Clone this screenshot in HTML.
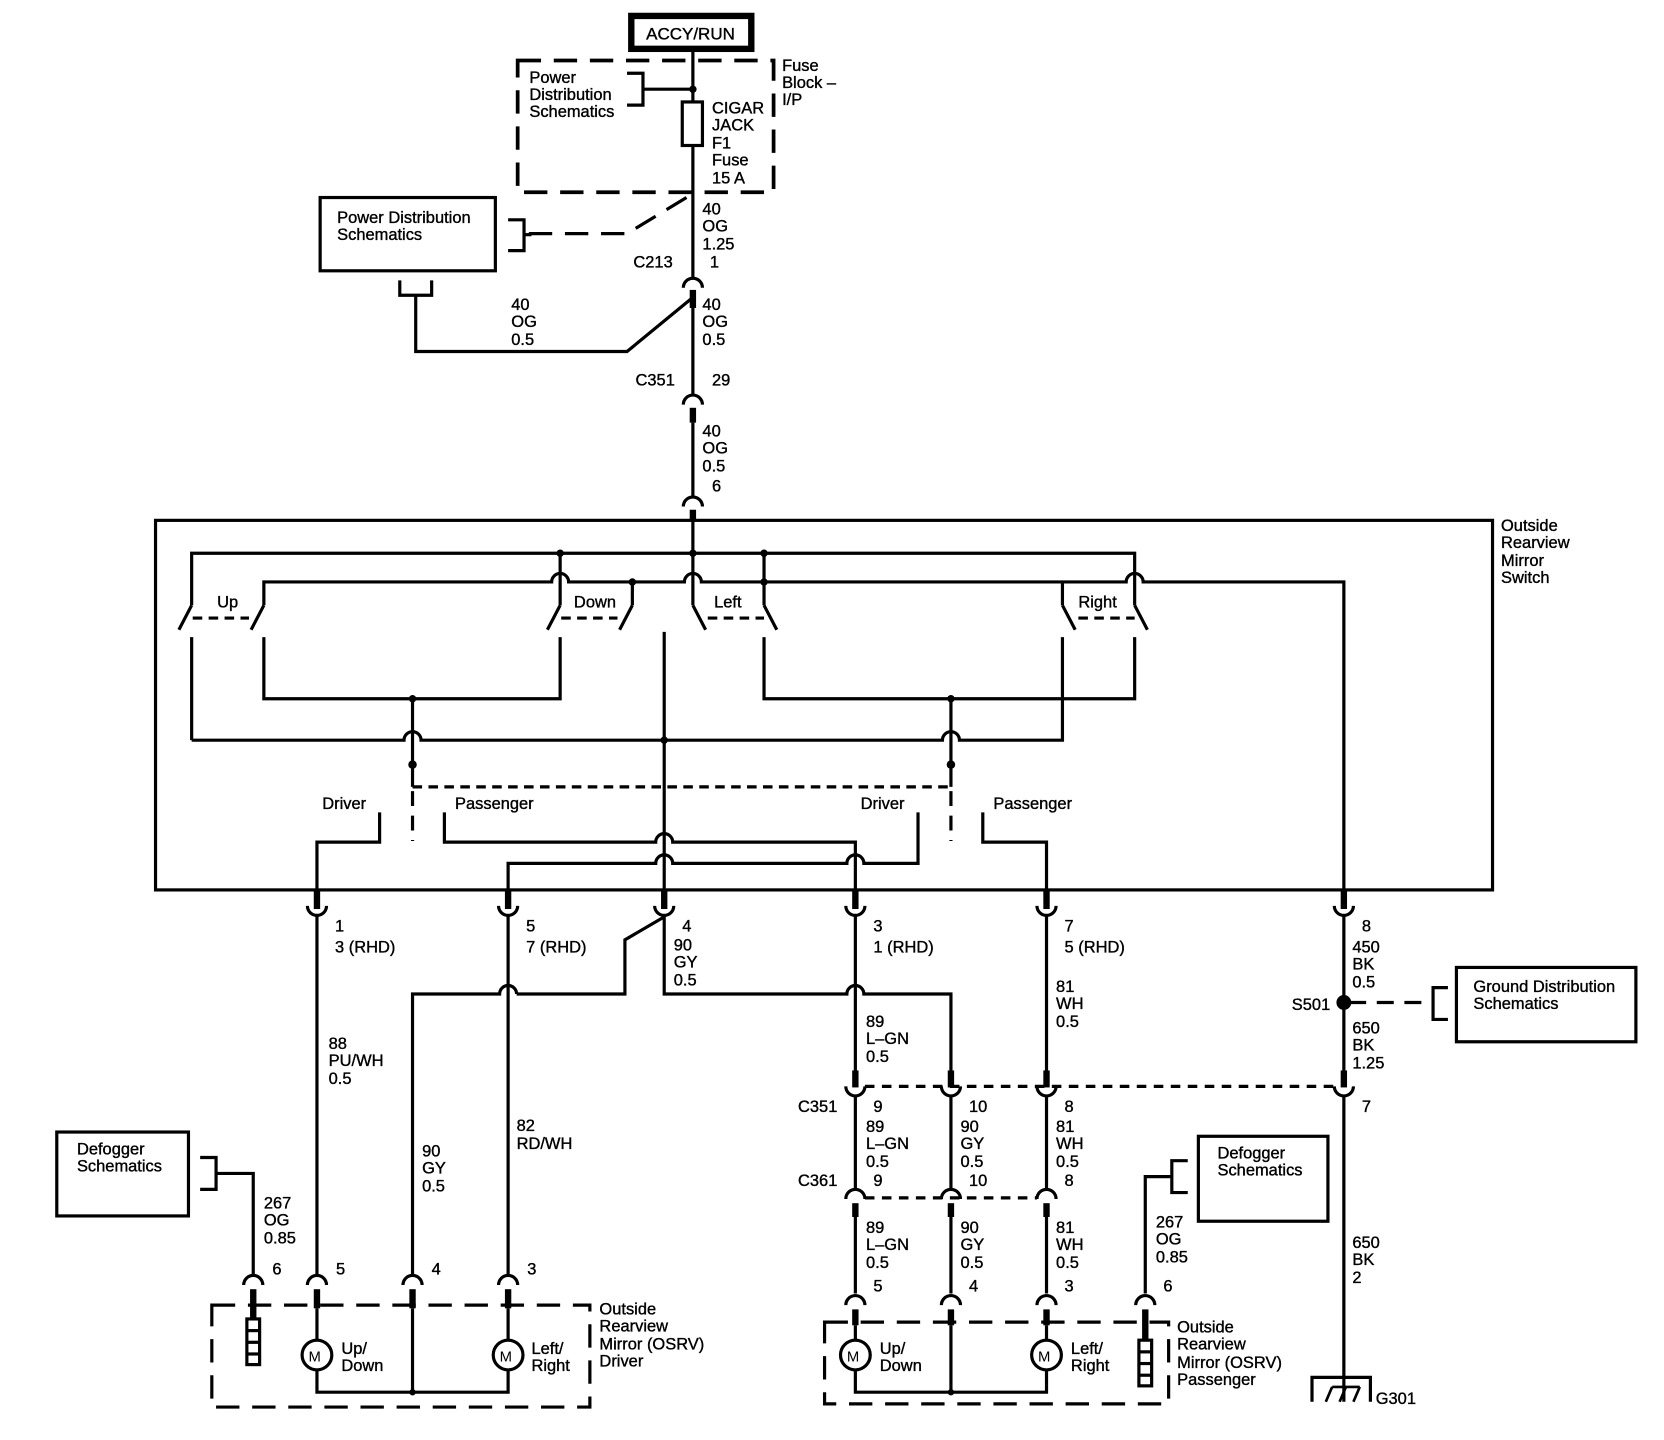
<!DOCTYPE html>
<html><head><meta charset="utf-8"><style>
html,body{margin:0;padding:0;background:#fff;}
svg{display:block;}
text{font-family:"Liberation Sans",sans-serif;font-size:15.5px;fill:#000;stroke:#000;stroke-width:0.35;}
</style></head><body>
<svg width="1664" height="1440" viewBox="0 0 1566 1356" xmlns="http://www.w3.org/2000/svg">
<g fill="none" stroke="#000" stroke-width="3">
<rect x="594" y="15" width="113" height="31" stroke-width="6"/>
<line x1="652" y1="48" x2="652" y2="262"/>
<rect x="487" y="57" width="241" height="124" stroke-dasharray="22,12" stroke-width="3.5"/>
<polyline points="590,69 605,69 605,99 590,99"/>
<line x1="605" y1="84" x2="652" y2="84"/>
<rect x="642" y="96" width="19" height="41" fill="#fff"/>
<polyline points="646,186 590,220 495,220" stroke-dasharray="22,12"/>
<polyline points="478,207 493,207 493,236 478,236"/>
<line x1="493" y1="221" x2="500" y2="221"/>
<rect x="301" y="186" width="165" height="69"/>
<polyline points="376,264 376,278 406,278 406,264"/>
<polyline points="391,278 391,331 590,331 652,280"/>
<path d="M643,271 A9,9 0 0 1 661,271"/>
<line x1="652" y1="273" x2="652" y2="290" stroke-width="6"/>
<line x1="652" y1="290" x2="652" y2="372"/>
<path d="M643,381 A9,9 0 0 1 661,381"/>
<line x1="652" y1="384" x2="652" y2="398" stroke-width="6"/>
<line x1="652" y1="398" x2="652" y2="468"/>
<path d="M643,477 A9,9 0 0 1 661,477"/>
<line x1="652" y1="480" x2="652" y2="490" stroke-width="6"/>
<rect x="146" y="490" width="1259" height="348"/>
<line x1="652" y1="490" x2="652" y2="570"/>
<polyline points="180,570 180,521 1068,521 1068,540"/>
<path d="M248,570 L248,548 L519,548 A8,8 0 0 1 535,548 L644,548 A8,8 0 0 1 660,548 L1060,548 A8,8 0 0 1 1076,548 L1265,548 L1265,852"/>
<line x1="527" y1="521" x2="527" y2="570"/>
<line x1="595" y1="548" x2="595" y2="570"/>
<line x1="719" y1="521" x2="719" y2="570"/>
<line x1="1000" y1="548" x2="1000" y2="570"/>
<line x1="1068" y1="540" x2="1068" y2="570"/>
<polyline points="180,570 168,593"/><polyline points="248,570 236,593"/>
<polyline points="527,570 515,593"/><polyline points="595,570 583,593"/>
<polyline points="652,570 664,593"/><polyline points="719,570 731,593"/>
<polyline points="1000,570 1012,593"/><polyline points="1068,570 1080,593"/>
<g stroke-dasharray="9,6"><line x1="181" y1="582" x2="234" y2="582"/><line x1="528" y1="582" x2="581" y2="582"/><line x1="666" y1="582" x2="719" y2="582"/><line x1="1015" y1="582" x2="1068" y2="582"/>
<line x1="388" y1="741" x2="895" y2="741"/></g>
<line x1="180" y1="600" x2="180" y2="697"/>
<polyline points="248,600 248,658 527,658 527,600"/>
<polyline points="719,600 719,658 1068,658 1068,600"/>
<line x1="625" y1="595" x2="625" y2="852"/>
<path d="M180,697 L380,697 A8,8 0 0 1 396,697 L887,697 A8,8 0 0 1 903,697 L1000,697 L1000,600"/>
<line x1="388" y1="658" x2="388" y2="741"/>
<line x1="895" y1="658" x2="895" y2="741"/>
<g stroke-dasharray="14,9"><line x1="388" y1="745" x2="388" y2="792"/><line x1="895" y1="745" x2="895" y2="792"/></g>
<polyline points="357,765 357,793 298,793 298,852"/>
<path d="M418,765 L418,793 L617,793 A8,8 0 0 1 633,793 L805,793 L805,852"/>
<path d="M478,852 L478,813 L617,813 A8,8 0 0 1 633,813 L797,813 A8,8 0 0 1 813,813 L864,813 L864,765"/>
<polyline points="925,765 925,793 985,793 985,852"/>
<path d="M289,853 A9,9 0 0 0 307,853"/><path d="M469,853 A9,9 0 0 0 487,853"/><path d="M616,853 A9,9 0 0 0 634,853"/><path d="M796,853 A9,9 0 0 0 814,853"/><path d="M976,853 A9,9 0 0 0 994,853"/><path d="M1256,853 A9,9 0 0 0 1274,853"/>
<g stroke-width="6"><line x1="298" y1="838" x2="298" y2="856"/><line x1="478" y1="838" x2="478" y2="856"/><line x1="625" y1="838" x2="625" y2="856"/><line x1="805" y1="838" x2="805" y2="856"/><line x1="985" y1="838" x2="985" y2="856"/><line x1="1265" y1="838" x2="1265" y2="856"/></g>
<line x1="298" y1="862" x2="298" y2="1200"/>
<line x1="478" y1="862" x2="478" y2="1200"/>
<polyline points="624,864 588,885 588,936 486,936"/>
<path d="M486,936 A8,8 0 0 0 470,936 L388,936 L388,1200"/>
<path d="M625,862 L625,936 L797,936 A8,8 0 0 1 813,936 L895,936 L895,1010"/>
<line x1="805" y1="862" x2="805" y2="1010"/>
<line x1="985" y1="862" x2="985" y2="1010"/>
<line x1="1265" y1="862" x2="1265" y2="1010"/>
<line x1="1270" y1="944" x2="1349" y2="944" stroke-dasharray="16,10"/>
<polyline points="1363,930 1349,930 1349,960 1363,960"/>
<rect x="1371" y="911" width="169" height="70"/>
<line x1="814" y1="1023" x2="1256" y2="1023" stroke-dasharray="9,7"/>
<g stroke-width="6"><line x1="805" y1="1008" x2="805" y2="1024"/><line x1="895" y1="1008" x2="895" y2="1024"/><line x1="985" y1="1008" x2="985" y2="1024"/><line x1="1265" y1="1008" x2="1265" y2="1024"/></g>
<path d="M796,1023 A9,9 0 0 0 814,1023"/><path d="M886,1023 A9,9 0 0 0 904,1023"/><path d="M976,1023 A9,9 0 0 0 994,1023"/><path d="M1256,1023 A9,9 0 0 0 1274,1023"/>
<line x1="805" y1="1032" x2="805" y2="1120"/><line x1="895" y1="1032" x2="895" y2="1120"/><line x1="985" y1="1032" x2="985" y2="1120"/>
<line x1="1265" y1="1032" x2="1265" y2="1320"/>
<line x1="814" y1="1128" x2="976" y2="1128" stroke-dasharray="9,7"/>
<path d="M796,1129 A9,9 0 0 1 814,1129"/><path d="M886,1129 A9,9 0 0 1 904,1129"/><path d="M976,1129 A9,9 0 0 1 994,1129"/>
<g stroke-width="6"><line x1="805" y1="1133" x2="805" y2="1146"/><line x1="895" y1="1133" x2="895" y2="1146"/><line x1="985" y1="1133" x2="985" y2="1146"/></g>
<line x1="805" y1="1146" x2="805" y2="1218"/><line x1="895" y1="1146" x2="895" y2="1218"/><line x1="985" y1="1146" x2="985" y2="1218"/>
<path d="M796,1229 A9,9 0 0 1 814,1229"/><path d="M886,1229 A9,9 0 0 1 904,1229"/><path d="M976,1229 A9,9 0 0 1 994,1229"/><path d="M1069,1229 A9,9 0 0 1 1087,1229"/>
<g stroke-width="6"><line x1="805" y1="1233" x2="805" y2="1248"/><line x1="895" y1="1233" x2="895" y2="1248"/><line x1="985" y1="1233" x2="985" y2="1248"/><line x1="1078" y1="1233" x2="1078" y2="1262"/></g>
<rect x="776" y="1245" width="324" height="77" stroke-dasharray="22,12"/>
<line x1="805" y1="1248" x2="805" y2="1262"/><circle cx="805" cy="1276" r="14" fill="#fff"/><polyline points="805,1290 805,1311 985,1311 985,1290"/><circle cx="985" cy="1276" r="14" fill="#fff"/><line x1="985" y1="1248" x2="985" y2="1262"/>
<line x1="895" y1="1248" x2="895" y2="1311"/>
<rect x="1072" y="1262" width="12" height="43" fill="#fff"/><line x1="1072" y1="1273" x2="1084" y2="1273"/><line x1="1072" y1="1284" x2="1084" y2="1284"/><line x1="1072" y1="1295" x2="1084" y2="1295"/>
<polyline points="1078,1218 1078,1108 1103,1108"/>
<polyline points="1118,1093 1103,1093 1103,1123 1118,1123"/>
<rect x="1128" y="1070" width="122" height="80"/>
<polyline points="1235,1320 1235,1297 1290,1297 1290,1320"/>
<g stroke-width="2.5"><line x1="1248" y1="1320" x2="1254" y2="1306"/><line x1="1261" y1="1320" x2="1267" y2="1306"/><line x1="1274" y1="1320" x2="1280" y2="1306"/><line x1="1254" y1="1306" x2="1280" y2="1306"/></g>
<rect x="53" y="1066" width="124" height="79"/>
<polyline points="188,1090 203,1090 203,1120 188,1120"/>
<polyline points="203,1105 238,1105 238,1200"/>
<path d="M229,1210 A9,9 0 0 1 247,1210"/><path d="M289,1210 A9,9 0 0 1 307,1210"/><path d="M379,1210 A9,9 0 0 1 397,1210"/><path d="M469,1210 A9,9 0 0 1 487,1210"/>
<g stroke-width="6"><line x1="238" y1="1214" x2="238" y2="1242"/><line x1="298" y1="1214" x2="298" y2="1232"/><line x1="388" y1="1214" x2="388" y2="1232"/><line x1="478" y1="1214" x2="478" y2="1232"/></g>
<rect x="199" y="1229" width="356" height="96" stroke-dasharray="22,12"/>
<line x1="298" y1="1232" x2="298" y2="1262"/><circle cx="298" cy="1276" r="14" fill="#fff"/><polyline points="298,1290 298,1311 478,1311 478,1290"/><circle cx="478" cy="1276" r="14" fill="#fff"/><line x1="478" y1="1232" x2="478" y2="1262"/>
<line x1="388" y1="1232" x2="388" y2="1311"/>
<rect x="232" y="1242" width="12" height="43" fill="#fff"/><line x1="232" y1="1253" x2="244" y2="1253"/><line x1="232" y1="1264" x2="244" y2="1264"/><line x1="232" y1="1275" x2="244" y2="1275"/>
</g>
<g fill="#000">
<circle cx="652" cy="84" r="3.5"/>
<circle cx="527" cy="521" r="3.5"/><circle cx="652" cy="521" r="3.5"/><circle cx="719" cy="521" r="3.5"/>
<circle cx="595" cy="548" r="3.5"/><circle cx="719" cy="548" r="3.5"/>
<circle cx="388" cy="658" r="3.5"/><circle cx="895" cy="658" r="3.5"/><circle cx="625" cy="697" r="3.5"/>
<circle cx="388" cy="720" r="4"/><circle cx="895" cy="720" r="4"/>
<circle cx="1265" cy="944" r="7"/>
<circle cx="895" cy="1311" r="3"/><circle cx="388" cy="1311" r="3"/>
</g>
<g>
<text x="608" y="37" style="font-size:16px">ACCY/RUN</text>
<text x="498" y="78">Power</text><text x="498" y="94">Distribution</text><text x="498" y="110">Schematics</text>
<text x="736" y="67">Fuse</text><text x="736" y="83">Block –</text><text x="736" y="99">I/P</text>
<text x="670" y="107">CIGAR</text><text x="670" y="123">JACK</text><text x="670" y="140">F1</text><text x="670" y="156">Fuse</text><text x="670" y="173">15 A</text>
<text x="317" y="210">Power Distribution</text><text x="317" y="226">Schematics</text>
<text x="661" y="202">40</text><text x="661" y="218">OG</text><text x="661" y="235">1.25</text>
<text x="596" y="252">C213</text><text x="668" y="252">1</text>
<text x="481" y="292">40</text><text x="481" y="308">OG</text><text x="481" y="325">0.5</text>
<text x="661" y="292">40</text><text x="661" y="308">OG</text><text x="661" y="325">0.5</text>
<text x="598" y="363">C351</text><text x="670" y="363">29</text>
<text x="661" y="411">40</text><text x="661" y="427">OG</text><text x="661" y="444">0.5</text>
<text x="670" y="463">6</text>
<text x="1413" y="500">Outside</text><text x="1413" y="516">Rearview</text><text x="1413" y="533">Mirror</text><text x="1413" y="549">Switch</text>
<text x="204" y="572">Up</text><text x="540" y="572">Down</text><text x="672" y="572">Left</text><text x="1015" y="572">Right</text>
<text x="303" y="762">Driver</text><text x="428" y="762">Passenger</text><text x="810" y="762">Driver</text><text x="935" y="762">Passenger</text>
<text x="315" y="877">1</text><text x="315" y="897">3 (RHD)</text>
<text x="495" y="877">5</text><text x="495" y="897">7 (RHD)</text>
<text x="642" y="877">4</text><text x="634" y="895">90</text><text x="634" y="911">GY</text><text x="634" y="928">0.5</text>
<text x="822" y="877">3</text><text x="822" y="897">1 (RHD)</text>
<text x="1002" y="877">7</text><text x="1002" y="897">5 (RHD)</text>
<text x="1282" y="877">8</text><text x="1273" y="897">450</text><text x="1273" y="913">BK</text><text x="1273" y="930">0.5</text>
<text x="1216" y="951">S501</text>
<text x="1273" y="973">650</text><text x="1273" y="989">BK</text><text x="1273" y="1006">1.25</text>
<text x="1387" y="934">Ground Distribution</text><text x="1387" y="950">Schematics</text>
<text x="994" y="934">81</text><text x="994" y="950">WH</text><text x="994" y="967">0.5</text>
<text x="815" y="967">89</text><text x="815" y="983">L–GN</text><text x="815" y="1000">0.5</text>
<text x="309" y="988">88</text><text x="309" y="1004">PU/WH</text><text x="309" y="1021">0.5</text>
<text x="486" y="1065">82</text><text x="486" y="1082">RD/WH</text>
<text x="397" y="1089">90</text><text x="397" y="1105">GY</text><text x="397" y="1122">0.5</text>
<text x="751" y="1047">C351</text><text x="822" y="1047">9</text><text x="912" y="1047">10</text><text x="1002" y="1047">8</text><text x="1282" y="1047">7</text>
<text x="815" y="1066">89</text><text x="815" y="1082">L–GN</text><text x="815" y="1099">0.5</text>
<text x="904" y="1066">90</text><text x="904" y="1082">GY</text><text x="904" y="1099">0.5</text>
<text x="994" y="1066">81</text><text x="994" y="1082">WH</text><text x="994" y="1099">0.5</text>
<text x="751" y="1117">C361</text><text x="822" y="1117">9</text><text x="912" y="1117">10</text><text x="1002" y="1117">8</text>
<text x="815" y="1161">89</text><text x="815" y="1177">L–GN</text><text x="815" y="1194">0.5</text>
<text x="904" y="1161">90</text><text x="904" y="1177">GY</text><text x="904" y="1194">0.5</text>
<text x="994" y="1161">81</text><text x="994" y="1177">WH</text><text x="994" y="1194">0.5</text>
<text x="822" y="1216">5</text><text x="912" y="1216">4</text><text x="1002" y="1216">3</text><text x="1095" y="1216">6</text>
<text x="1088" y="1156">267</text><text x="1088" y="1172">OG</text><text x="1088" y="1189">0.85</text>
<text x="1146" y="1091">Defogger</text><text x="1146" y="1107">Schematics</text>
<text x="1273" y="1175">650</text><text x="1273" y="1191">BK</text><text x="1273" y="1208">2</text>
<text x="1295" y="1322">G301</text>
<text x="828" y="1275">Up/</text><text x="828" y="1291">Down</text><text x="1008" y="1275">Left/</text><text x="1008" y="1291">Right</text>
<text x="1108" y="1255">Outside</text><text x="1108" y="1271">Rearview</text><text x="1108" y="1288">Mirror (OSRV)</text><text x="1108" y="1304">Passenger</text>
<text x="72" y="1087">Defogger</text><text x="72" y="1103">Schematics</text>
<text x="248" y="1138">267</text><text x="248" y="1154">OG</text><text x="248" y="1171">0.85</text>
<text x="256" y="1200">6</text><text x="316" y="1200">5</text><text x="406" y="1200">4</text><text x="496" y="1200">3</text>
<text x="321" y="1275">Up/</text><text x="321" y="1291">Down</text><text x="500" y="1275">Left/</text><text x="500" y="1291">Right</text>
<text x="564" y="1238">Outside</text><text x="564" y="1254">Rearview</text><text x="564" y="1271">Mirror (OSRV)</text><text x="564" y="1287">Driver</text>
<text x="290" y="1282" style="font-size:14px;stroke-width:0">M</text><text x="470" y="1282" style="font-size:14px;stroke-width:0">M</text>
<text x="797" y="1282" style="font-size:14px;stroke-width:0">M</text><text x="977" y="1282" style="font-size:14px;stroke-width:0">M</text>
</g>
</svg>
</body></html>
